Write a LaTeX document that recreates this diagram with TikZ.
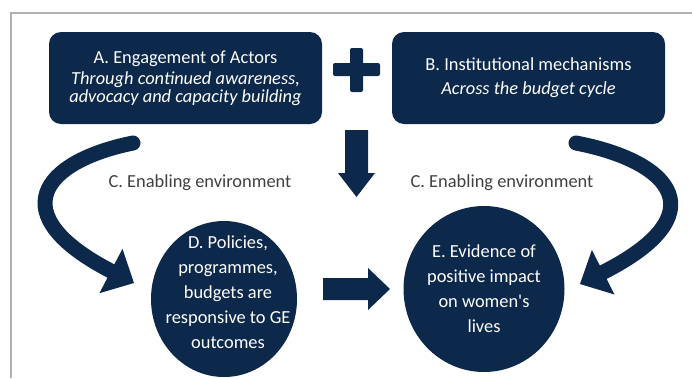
\documentclass[tikz,border=0pt]{standalone}
\usepackage{fontspec}
\setmainfont{Carlito}[Ligatures=TeXOff]
\usetikzlibrary{shapes.geometric,arrows.meta}
\definecolor{navy}{RGB}{12,40,74}
\definecolor{framegray}{RGB}{178,178,178}
\definecolor{labelgray}{RGB}{64,64,64}
\begin{document}
\begin{tikzpicture}[x=1pt,y=-1pt,
  box/.style={fill=navy, rounded corners=12pt, text=white, align=center,
    inner sep=0pt, minimum width=273pt, minimum height=92pt},
  blob/.style={ellipse, fill=navy, inner sep=0pt},
  blobtext/.style={text=white, align=center, inner sep=0pt,
    font=\fontsize{18.4}{25}\selectfont},
  envlabel/.style={text=labelgray, inner sep=0pt,
    font=\fontsize{18.4}{22}\selectfont},
  bendarrow/.style={draw=navy, line width=15pt, line cap=round,
    -{Triangle[width=50pt,length=26pt,line width=0pt]}},
  blockarrow/.style={fill=navy, draw=none}
]
\useasboundingbox (0,0) rectangle (692,378);

% frame edges
\draw[framegray, line width=1.3pt] (11,378) -- (11,13) -- (692,13);

% top boxes
\node[box, font=\fontsize{18.4}{18}\selectfont] (A) at (185.5,78)
  {A. Engagement of Actors\\[3pt]
   \itshape Through continued awareness,\\
   \itshape advocacy and capacity building};
\node[box, font=\fontsize{18.4}{24}\selectfont] (B) at (528.5,78)
  {B. Institutional mechanisms\\
   \itshape Across the budget cycle};

% plus sign between the boxes
\fill[navy, rounded corners=2pt] (333,63) rectangle (380,76);
\fill[navy, rounded corners=2pt] (350,48) rectangle (363,92);

% downward block arrow
\coordinate (down top) at (356.5,130);
\coordinate (down tip) at (356.5,197);
\fill[blockarrow] (345,130) -- (368,130)
  -- (368,173) -- (375,173) -- (down tip) -- (338,173) -- (345,173) -- cycle;

% enabling environment labels
\node[envlabel] (envL) at (200,183) {C. Enabling environment};
\node[envlabel] (envR) at (502,183) {C. Enabling environment};

% outcome ellipses
\node[blob, minimum width=146pt, minimum height=156pt] (D) at (224,299) {};
\node[blobtext] (Dtext) at (228,292)
  {D. Policies,\\programmes,\\budgets are\\responsive to GE\\outcomes};
\node[blob, minimum width=158pt, minimum height=166pt, blobtext] (E) at (484,289)
  {E. Evidence of\\positive impact\\on women's\\lives};

% block arrow from D to E
\coordinate (mid start) at (323,289);
\coordinate (mid tip) at (390,289);
\fill[blockarrow] (323,278) -- (368,278) -- (368,268)
  -- (mid tip) -- (368,310) -- (368,300) -- (323,300) -- cycle;

% curved arrows feeding the ellipses
\coordinate (L start) at (133,143);
\coordinate (L tip) at (134,283);
\coordinate (R start) at (576,143);
\coordinate (R tip) at (580,284);
\draw[bendarrow] (L start) .. controls (40,162) and (3,215) .. (L tip);
\draw[bendarrow] (R start) .. controls (674,162) and (716,215) .. (R tip);
\end{tikzpicture}
\end{document}
